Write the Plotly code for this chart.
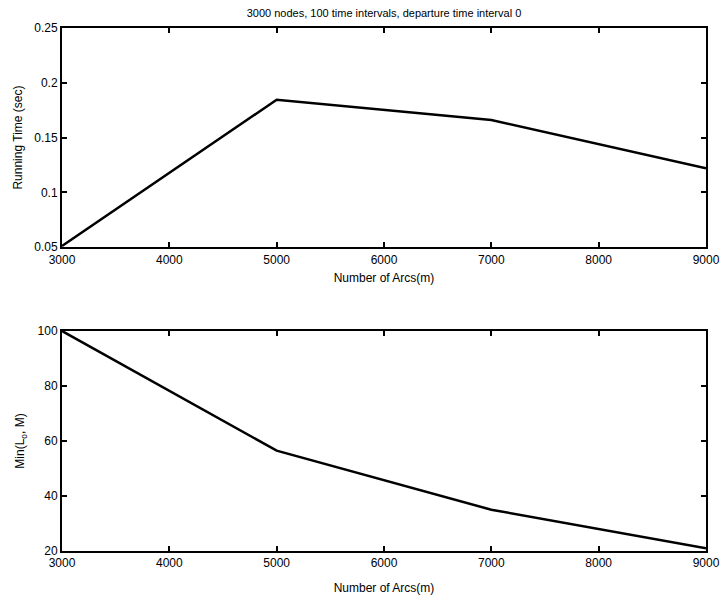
import plotly.graph_objects as go
from plotly.subplots import make_subplots

arcs = [3000, 5000, 7000, 9000]
running_time = [0.051, 0.1845, 0.166, 0.122]
min_lo_m = [100, 56.5, 35, 21]

title = "3000 nodes, 100 time intervals, departure time interval 0"
xlabel = "Number of Arcs(m)"
ylabel_top = "Running Time (sec)"
ylabel_bot = "Min(L<sub>o</sub>, M)"

fig = make_subplots(rows=2, cols=1, vertical_spacing=0.157)
fig.add_trace(go.Scatter(x=arcs, y=running_time, mode="lines",
                         line=dict(color="black", width=2.5), showlegend=False), row=1, col=1)
fig.add_trace(go.Scatter(x=arcs, y=min_lo_m, mode="lines",
                         line=dict(color="black", width=2.5), showlegend=False), row=2, col=1)

font = dict(family="Liberation Sans, Arial, sans-serif", size=12, color="black")
axis_common = dict(showline=True, linecolor="black", linewidth=2, mirror="ticks",
                   ticks="inside", ticklen=5, tickwidth=1.5, tickcolor="black",
                   showgrid=False, zeroline=False, tickfont=font, automargin=False)

fig.update_xaxes(range=[3000, 9000], dtick=1000, **axis_common)
fig.update_xaxes(title=dict(text=xlabel, font=font, standoff=8), row=1, col=1)
fig.update_xaxes(title=dict(text=xlabel, font=font, standoff=14), row=2, col=1)
fig.update_yaxes(range=[0.05, 0.25], tickvals=[0.05, 0.1, 0.15, 0.2, 0.25],
                 title=dict(text=ylabel_top, font=font, standoff=9), row=1, col=1, **axis_common)
fig.update_yaxes(range=[20, 100], tickvals=[20, 40, 60, 80, 100],
                 title=dict(text=ylabel_bot, font=font, standoff=10), row=2, col=1, **axis_common)

fig.update_layout(
    width=721, height=600,
    margin=dict(l=62, r=15, t=28, b=49),
    plot_bgcolor="white", paper_bgcolor="white",
    font=font,
    title=dict(text=title, x=0.5, xref="paper", y=0.985, yref="container",
               font=dict(family="Liberation Sans, Arial, sans-serif", size=11, color="black")),
)
fig.update_layout(yaxis=dict(domain=[0.581, 1.0]), yaxis2=dict(domain=[0.0, 0.4207]))

fig.write_html("out.html")
